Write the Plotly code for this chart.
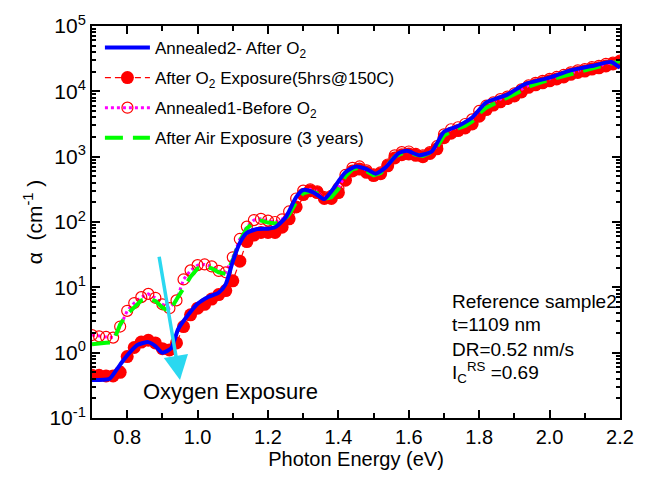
import plotly.graph_objects as go

# ---------------- data ----------------
blue_x = [0.70, 0.75, 0.77, 0.79, 0.81, 0.83, 0.86, 0.88, 0.90, 0.925, 0.945, 0.97,
          1.00, 1.03, 1.06, 1.08, 1.10, 1.12, 1.14, 1.17, 1.20, 1.22, 1.25, 1.28,
          1.30, 1.33, 1.36, 1.38, 1.42, 1.45, 1.48, 1.505, 1.535, 1.57, 1.595, 1.63,
          1.665, 1.70, 1.74, 1.78, 1.82, 1.88, 1.93, 2.00, 2.06, 2.13, 2.175, 2.20]
blue_y = [0.38, 0.40, 0.55, 0.78, 1.05, 1.32, 1.45, 1.26, 1.00, 1.17, 2.3, 3.6,
          5.6, 7.1, 8.3, 11.2, 25, 48, 68, 78, 79, 83, 117, 240,
          309, 282, 224, 295, 575, 708, 646, 550, 692, 1120, 1230, 1050,
          1200, 2400, 2950, 3980, 6760, 8910, 12900, 16200, 20900, 25100, 28200, 22900]

grid_x = [0.70, 0.72, 0.74, 0.76, 0.78, 0.80, 0.82, 0.84, 0.86, 0.88, 0.90, 0.92,
          0.94, 0.96, 0.98, 1.00, 1.02, 1.04, 1.06, 1.08, 1.10, 1.12, 1.14, 1.16,
          1.18, 1.20, 1.22, 1.24, 1.26, 1.28, 1.30, 1.32, 1.34, 1.36, 1.38, 1.40,
          1.42, 1.44, 1.46, 1.48, 1.50, 1.52, 1.54, 1.56, 1.58, 1.60, 1.62, 1.64,
          1.66, 1.68, 1.70, 1.72, 1.74, 1.76, 1.78, 1.80, 1.82, 1.84, 1.86, 1.88,
          1.90, 1.92, 1.94, 1.96, 1.98, 2.00, 2.02, 2.04, 2.06, 2.08, 2.10, 2.12,
          2.14, 2.16, 2.18, 2.20]

red_y = [0.45, 0.45, 0.44, 0.44, 0.50, 0.87, 1.20, 1.45, 1.55, 1.41, 1.15, 1.10,
         1.41, 2.51, 3.80, 4.79, 5.50, 6.61, 7.76, 8.91, 12.6, 25.1, 50.1, 63.1,
         69.2, 69.2, 69.2, 83.2, 112, 170, 263, 302, 282, 229, 229, 282,
         437, 603, 646, 575, 513, 550, 724, 955, 1070, 1100, 1050, 1000,
         1120, 1320, 1950, 2290, 2510, 2750, 3160, 4170, 5250, 6170, 6920, 7760,
         8510, 9770, 11500, 12600, 13500, 14500, 15500, 16600, 18200, 19500, 20400, 21900,
         22900, 24500, 26300, 28200]

open_y = [1.86, 1.78, 1.74, 1.70, 2.51, 4.37, 5.75, 7.08, 7.94, 6.92, 5.50, 4.79,
          6.31, 13.2, 18.2, 21.9, 22.4, 20.9, 17.8, 17.0, 28.8, 55, 85, 107,
          112, 105, 100, 110, 145, 229, 302, 316, 295, 240, 251, 331,
          525, 676, 708, 617, 537, 575, 759, 1050, 1175, 1200, 1100, 1050,
          1175, 1445, 2190, 2630, 2820, 3160, 3720, 5010, 6030, 6760, 7590, 8320,
          9330, 10700, 12300, 13500, 14500, 15500, 16600, 17800, 19500, 20900, 21900, 23400,
          24500, 26300, 27500, 29500]

green_y = [1.35, 1.40, 1.42, 1.45, 2.7, 3.9, 5.0, 6.3, 6.8, 6.2, 4.9, 4.3,
           6.5, 9.5, 14.5, 19.5, 21, 19.5, 17, 16, 26, 52, 80, 98,
           105, 98, 95, 100, 130, 200, 275, 295, 275, 225, 240, 320,
           500, 640, 680, 600, 520, 560, 740, 1000, 1120, 1150, 1070, 1030,
           1150, 1400, 2100, 2450, 2700, 2950, 3450, 4600, 5600, 6400, 7200, 8000,
           8900, 10200, 11800, 13000, 14000, 15000, 16000, 17200, 18800, 20000, 21000, 22500,
           23700, 25300, 27000, 29000]

y_tickvals = [0.1, 1, 10, 100, 1000, 10000, 100000]
y_ticktext = ["10<sup>-1</sup>", "10<sup>0</sup>", "10<sup>1</sup>", "10<sup>2</sup>",
              "10<sup>3</sup>", "10<sup>4</sup>", "10<sup>5</sup>"]
x_tickvals = [0.8, 1.0, 1.2, 1.4, 1.6, 1.8, 2.0, 2.2]
x_ticktext = ["0.8", "1.0", "1.2", "1.4", "1.6", "1.8", "2.0", "2.2"]

# ---------------- figure ----------------
FONT = "Liberation Sans, Arial, sans-serif"
fig = go.Figure()

fig.add_trace(go.Scatter(
    x=grid_x, y=red_y, mode="lines+markers",
    name="After O<sub>2</sub> Exposure(5hrs@150C)",
    line=dict(color="#FF0000", width=1.2, dash="6px,4px"),
    marker=dict(color="#FF0000", size=13, line=dict(width=0)),
    legendgroup="b", legendrank=2))

fig.add_trace(go.Scatter(
    x=grid_x, y=open_y, mode="lines+markers",
    name="Annealed1-Before O<sub>2</sub>",
    line=dict(color="#FF00FF", width=3, dash="dot"),
    marker=dict(color="#FF0000", size=11, symbol="circle-open",
                line=dict(color="#FF0000", width=1.2)),
    legendgroup="c", legendrank=3))

fig.add_trace(go.Scatter(
    x=grid_x, y=green_y, mode="lines",
    name="After Air Exposure (3 years)",
    line=dict(color="#00FF00", width=4, dash="18px,10px"),
    legendgroup="d", legendrank=4))

fig.add_trace(go.Scatter(
    x=blue_x, y=blue_y, mode="lines",
    name="Annealed2- After O<sub>2</sub>",
    line=dict(color="#0000FF", width=4, shape="spline", smoothing=0.6),
    legendgroup="a", legendrank=1))

minor_vals = []
for e in range(-1, 5):
    for m in range(2, 10):
        minor_vals.append(m * 10 ** e)

fig.update_xaxes(
    range=[0.7, 2.2], tickvals=x_tickvals, ticktext=x_ticktext,
    ticks="inside", ticklen=8, tickwidth=2, tickcolor="black",
    minor=dict(ticks="inside", ticklen=5, tickwidth=1.5, dtick=0.1, tick0=0.7, tickcolor="black"),
    showline=True, linewidth=2, linecolor="black", mirror="ticks",
    showgrid=False, zeroline=False,
    tickfont=dict(size=20, color="black", family=FONT),
    title=dict(text="Photon Energy (eV)", font=dict(size=20, color="black", family=FONT), standoff=4),
)
fig.update_yaxes(
    type="log", range=[-1, 5], tickvals=y_tickvals, ticktext=y_ticktext,
    ticks="inside", ticklen=8, tickwidth=2, tickcolor="black",
    minor=dict(ticks="inside", ticklen=4, tickwidth=1.5, tickvals=minor_vals, tickcolor="black"),
    showline=True, linewidth=2, linecolor="black", mirror="ticks",
    showgrid=False, zeroline=False,
    tickfont=dict(size=21, color="black", family=FONT),
    title=dict(text="α  (cm<sup>-1</sup> )", font=dict(size=21, color="black", family=FONT), standoff=1),
)

fig.update_layout(
    width=646, height=484,
    margin=dict(l=92, r=24, t=25, b=66),
    paper_bgcolor="white", plot_bgcolor="white",
    font=dict(family=FONT, color="black"),
    legend=dict(x=0.015, y=0.99, xanchor="left", yanchor="top", itemwidth=45,
                bgcolor="rgba(0,0,0,0)", font=dict(size=17, color="black", family=FONT),
                tracegroupgap=5, traceorder="grouped"),
    showlegend=True,
)

# arrow
fig.add_annotation(x=0.95, y=-0.42, ax=0.89, ay=1.49, xref="x", yref="y",
                   axref="x", ayref="y", showarrow=True, arrowhead=2,
                   arrowsize=1.4, arrowwidth=3.5, arrowcolor="#2AD8F0", text="")

fig.add_annotation(x=0.093, y=0.067, xref="paper", yref="paper", xanchor="left",
                   yanchor="middle", showarrow=False, text="Oxygen Exposure",
                   font=dict(size=22, color="black", family=FONT))

lines = ["Reference sample2", "t=1109 nm", "DR=0.52 nm/s", "I<sub>C</sub><sup>RS</sup> =0.69"]
ys = [0.298, 0.238, 0.176, 0.115]
for t, yy in zip(lines, ys):
    fig.add_annotation(x=0.678, y=yy, xref="paper", yref="paper", xanchor="left",
                       yanchor="middle", showarrow=False, text=t,
                       font=dict(size=19, color="black", family=FONT))

fig.write_html("out.html")
